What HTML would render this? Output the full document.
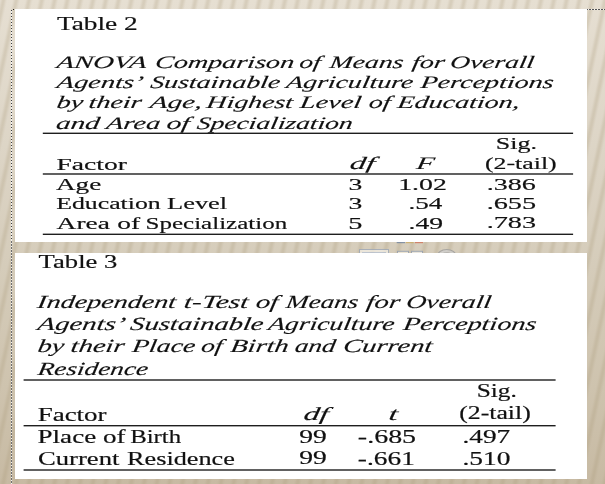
<!DOCTYPE html>
<html><head><meta charset="utf-8"><style>
html,body{margin:0;padding:0;width:605px;height:484px;overflow:hidden;background:#ddd5c6;}
svg{display:block;}
text{font-family:"Liberation Serif","Times New Roman",serif;fill:#111;stroke:#111;stroke-width:0.18px;}
text[font-style=italic]{stroke-width:0.12px;}
</style></head><body>
<svg width="605" height="484" viewBox="0 0 605 484">
<defs>
<linearGradient id="bg" x1="0" y1="0" x2="0" y2="1">
<stop offset="0" stop-color="#e6dfd2"/><stop offset="0.3" stop-color="#ddd5c6"/><stop offset="0.55" stop-color="#d5ccba"/><stop offset="0.8" stop-color="#cec3ae"/><stop offset="1" stop-color="#c7baa3"/>
</linearGradient>
<linearGradient id="sg" x1="0" y1="0" x2="1" y2="0">
<stop offset="0" stop-color="#a89878" stop-opacity="0"/>
<stop offset="0.35" stop-color="#a89878" stop-opacity="0.22"/>
<stop offset="0.5" stop-color="#a89878" stop-opacity="0.26"/>
<stop offset="0.65" stop-color="#a89878" stop-opacity="0.22"/>
<stop offset="1" stop-color="#a89878" stop-opacity="0"/>
</linearGradient>
<pattern id="st" x="0" y="0" width="12.8" height="484" patternUnits="userSpaceOnUse" patternTransform="skewX(-12)">
<rect x="0" y="0" width="7" height="484" fill="url(#sg)"/>
</pattern>
<pattern id="dv" x="0" y="1" width="1" height="3" patternUnits="userSpaceOnUse">
<rect x="0" y="0" width="1" height="1" fill="#3c3c3c"/><rect x="0" y="1" width="1" height="2" fill="#f2f2f2"/>
</pattern>
<pattern id="dv2" x="0" y="0" width="1" height="3" patternUnits="userSpaceOnUse">
<rect x="0" y="0" width="1" height="1" fill="#f4f4f4"/><rect x="0" y="1" width="1" height="2" fill="#6f6f6f"/>
</pattern>
<pattern id="dh" x="1" y="0" width="3" height="1" patternUnits="userSpaceOnUse">
<rect x="0" y="0" width="2" height="1" fill="#555"/><rect x="2" y="0" width="1" height="1" fill="#f4f4f4"/>
</pattern>
</defs>
<rect width="605" height="484" fill="url(#bg)"/>
<rect width="605" height="484" fill="url(#st)"/>
<rect x="11" y="10" width="1" height="230" fill="url(#dv)"/><rect x="11" y="240" width="1" height="244" fill="url(#dv2)"/>
<rect x="587" y="9" width="18" height="1" fill="url(#dh)"/><rect x="13" y="9" width="1" height="1" fill="#222"/>
<rect x="15" y="9" width="572" height="233" fill="#fff"/>
<g opacity="0.75">
<rect x="396.7" y="242" width="8.4" height="1.2" fill="#6b7f9c"/>
<rect x="405.8" y="242" width="7.8" height="1.2" fill="#c9a85e"/>
<rect x="415" y="242" width="8" height="1.2" fill="#d06b50"/>
<rect x="359.5" y="249.5" width="29" height="6" fill="#f3efe6" stroke="#9aa6b8" stroke-width="1"/>
<rect x="362" y="252" width="24" height="1.2" fill="#b7c3d6"/>
<rect x="397.5" y="251.3" width="11" height="4" fill="#f6eedb" stroke="#8e9bb0" stroke-width="1"/>
<rect x="411.5" y="251.3" width="11" height="4" fill="#f2efe8" stroke="#8e9bb0" stroke-width="1"/>
<ellipse cx="446.7" cy="256" rx="9.5" ry="6.5" fill="#cfcfcf" stroke="#9a9a9a" stroke-width="1.2"/>
<ellipse cx="446.7" cy="256" rx="6" ry="4" fill="#b0b0b0"/>
</g>
<rect x="15" y="253" width="572" height="226" fill="#fff"/>
<rect x="42.8" y="132.60" width="530.3" height="1.4" fill="#1e1e1e"/><rect x="42.8" y="173.30" width="530.3" height="1.4" fill="#1e1e1e"/><rect x="42.8" y="233.60" width="530.3" height="1.4" fill="#1e1e1e"/><rect x="23.6" y="379.30" width="532.0" height="1.4" fill="#1e1e1e"/><rect x="23.6" y="425.00" width="532.0" height="1.4" fill="#1e1e1e"/><rect x="23.6" y="469.30" width="532.0" height="1.4" fill="#1e1e1e"/>
<text x="56.07" y="67.90" font-size="17.5" font-style="italic" textLength="89.99" lengthAdjust="spacingAndGlyphs" transform="matrix(1 0 -0.1584 1 10.754 0)">ANOVA</text><text x="154.45" y="67.90" font-size="17.5" font-style="italic" textLength="139.05" lengthAdjust="spacingAndGlyphs" transform="matrix(1 0 -0.1584 1 10.754 0)">Comparison</text><text x="298.88" y="67.90" font-size="17.5" font-style="italic" textLength="21.28" lengthAdjust="spacingAndGlyphs" transform="matrix(1 0 -0.1584 1 10.754 0)">of</text><text x="328.95" y="67.90" font-size="17.5" font-style="italic" textLength="73.84" lengthAdjust="spacingAndGlyphs" transform="matrix(1 0 -0.1584 1 10.754 0)">Means</text><text x="411.55" y="67.90" font-size="17.5" font-style="italic" textLength="32.57" lengthAdjust="spacingAndGlyphs" transform="matrix(1 0 -0.1584 1 10.754 0)">for</text><text x="449.63" y="67.90" font-size="17.5" font-style="italic" textLength="83.78" lengthAdjust="spacingAndGlyphs" transform="matrix(1 0 -0.1584 1 10.754 0)">Overall</text><text x="56.06" y="88.00" font-size="17.5" font-style="italic" textLength="86.78" lengthAdjust="spacingAndGlyphs" transform="matrix(1 0 -0.1584 1 13.938 0)">Agents’</text><text x="149.65" y="88.00" font-size="17.5" font-style="italic" textLength="130.05" lengthAdjust="spacingAndGlyphs" transform="matrix(1 0 -0.1584 1 13.938 0)">Sustainable</text><text x="285.53" y="88.00" font-size="17.5" font-style="italic" textLength="127.15" lengthAdjust="spacingAndGlyphs" transform="matrix(1 0 -0.1584 1 13.938 0)">Agriculture</text><text x="419.94" y="88.00" font-size="17.5" font-style="italic" textLength="133.09" lengthAdjust="spacingAndGlyphs" transform="matrix(1 0 -0.1584 1 13.938 0)">Perceptions</text><text x="56.04" y="108.30" font-size="17.5" font-style="italic" textLength="26.63" lengthAdjust="spacingAndGlyphs" transform="matrix(1 0 -0.1584 1 17.153 0)">by</text><text x="87.93" y="108.30" font-size="17.5" font-style="italic" textLength="53.16" lengthAdjust="spacingAndGlyphs" transform="matrix(1 0 -0.1584 1 17.153 0)">their</text><text x="149.39" y="108.30" font-size="17.5" font-style="italic" textLength="52.21" lengthAdjust="spacingAndGlyphs" transform="matrix(1 0 -0.1584 1 17.153 0)">Age,</text><text x="205.88" y="108.30" font-size="17.5" font-style="italic" textLength="86.39" lengthAdjust="spacingAndGlyphs" transform="matrix(1 0 -0.1584 1 17.153 0)">Highest</text><text x="299.25" y="108.30" font-size="17.5" font-style="italic" textLength="61.40" lengthAdjust="spacingAndGlyphs" transform="matrix(1 0 -0.1584 1 17.153 0)">Level</text><text x="368.27" y="108.30" font-size="17.5" font-style="italic" textLength="21.64" lengthAdjust="spacingAndGlyphs" transform="matrix(1 0 -0.1584 1 17.153 0)">of</text><text x="396.85" y="108.30" font-size="17.5" font-style="italic" textLength="122.21" lengthAdjust="spacingAndGlyphs" transform="matrix(1 0 -0.1584 1 17.153 0)">Education,</text><text x="55.53" y="128.70" font-size="17.5" font-style="italic" textLength="43.50" lengthAdjust="spacingAndGlyphs" transform="matrix(1 0 -0.1584 1 20.384 0)">and</text><text x="105.56" y="128.70" font-size="17.5" font-style="italic" textLength="53.98" lengthAdjust="spacingAndGlyphs" transform="matrix(1 0 -0.1584 1 20.384 0)">Area</text><text x="165.91" y="128.70" font-size="17.5" font-style="italic" textLength="23.09" lengthAdjust="spacingAndGlyphs" transform="matrix(1 0 -0.1584 1 20.384 0)">of</text><text x="196.16" y="128.70" font-size="17.5" font-style="italic" textLength="155.95" lengthAdjust="spacingAndGlyphs" transform="matrix(1 0 -0.1584 1 20.384 0)">Specialization</text><text x="36.54" y="308.30" font-size="18.5" font-style="italic" textLength="138.70" lengthAdjust="spacingAndGlyphs" transform="matrix(1 0 -0.1584 1 48.830 0)">Independent</text><text x="183.17" y="308.30" font-size="18.5" font-style="italic" textLength="64.57" lengthAdjust="spacingAndGlyphs" transform="matrix(1 0 -0.1584 1 48.830 0)">t-Test</text><text x="255.17" y="308.30" font-size="18.5" font-style="italic" textLength="22.40" lengthAdjust="spacingAndGlyphs" transform="matrix(1 0 -0.1584 1 48.830 0)">of</text><text x="285.34" y="308.30" font-size="18.5" font-style="italic" textLength="72.23" lengthAdjust="spacingAndGlyphs" transform="matrix(1 0 -0.1584 1 48.830 0)">Means</text><text x="365.80" y="308.30" font-size="18.5" font-style="italic" textLength="33.61" lengthAdjust="spacingAndGlyphs" transform="matrix(1 0 -0.1584 1 48.830 0)">for</text><text x="405.41" y="308.30" font-size="18.5" font-style="italic" textLength="85.11" lengthAdjust="spacingAndGlyphs" transform="matrix(1 0 -0.1584 1 48.830 0)">Overall</text><text x="36.88" y="330.10" font-size="18.5" font-style="italic" textLength="87.87" lengthAdjust="spacingAndGlyphs" transform="matrix(1 0 -0.1584 1 52.283 0)">Agents’</text><text x="129.64" y="330.10" font-size="18.5" font-style="italic" textLength="133.17" lengthAdjust="spacingAndGlyphs" transform="matrix(1 0 -0.1584 1 52.283 0)">Sustainable</text><text x="267.52" y="330.10" font-size="18.5" font-style="italic" textLength="126.16" lengthAdjust="spacingAndGlyphs" transform="matrix(1 0 -0.1584 1 52.283 0)">Agriculture</text><text x="402.44" y="330.10" font-size="18.5" font-style="italic" textLength="133.29" lengthAdjust="spacingAndGlyphs" transform="matrix(1 0 -0.1584 1 52.283 0)">Perceptions</text><text x="37.04" y="351.90" font-size="18.5" font-style="italic" textLength="26.63" lengthAdjust="spacingAndGlyphs" transform="matrix(1 0 -0.1584 1 55.735 0)">by</text><text x="70.02" y="351.90" font-size="18.5" font-style="italic" textLength="53.88" lengthAdjust="spacingAndGlyphs" transform="matrix(1 0 -0.1584 1 55.735 0)">their</text><text x="131.44" y="351.90" font-size="18.5" font-style="italic" textLength="63.16" lengthAdjust="spacingAndGlyphs" transform="matrix(1 0 -0.1584 1 55.735 0)">Place</text><text x="200.48" y="351.90" font-size="18.5" font-style="italic" textLength="21.37" lengthAdjust="spacingAndGlyphs" transform="matrix(1 0 -0.1584 1 55.735 0)">of</text><text x="229.72" y="351.90" font-size="18.5" font-style="italic" textLength="58.31" lengthAdjust="spacingAndGlyphs" transform="matrix(1 0 -0.1584 1 55.735 0)">Birth</text><text x="294.19" y="351.90" font-size="18.5" font-style="italic" textLength="40.75" lengthAdjust="spacingAndGlyphs" transform="matrix(1 0 -0.1584 1 55.735 0)">and</text><text x="342.43" y="351.90" font-size="18.5" font-style="italic" textLength="89.30" lengthAdjust="spacingAndGlyphs" transform="matrix(1 0 -0.1584 1 55.735 0)">Current</text><text x="36.94" y="374.90" font-size="18.5" font-style="italic" textLength="110.43" lengthAdjust="spacingAndGlyphs" transform="matrix(1 0 -0.1584 1 59.378 0)">Residence</text><text x="56.19" y="208.80" font-size="17.5" textLength="104.48" lengthAdjust="spacingAndGlyphs">Education</text><text x="167.07" y="208.80" font-size="17.5" textLength="60.09" lengthAdjust="spacingAndGlyphs">Level</text><text x="56.63" y="229.10" font-size="17.5" textLength="53.23" lengthAdjust="spacingAndGlyphs">Area</text><text x="117.23" y="229.10" font-size="17.5" textLength="22.82" lengthAdjust="spacingAndGlyphs">of</text><text x="145.61" y="229.10" font-size="17.5" textLength="141.56" lengthAdjust="spacingAndGlyphs">Specialization</text><text x="37.56" y="443.10" font-size="18.5" textLength="58.64" lengthAdjust="spacingAndGlyphs">Place</text><text x="102.97" y="443.10" font-size="18.5" textLength="22.56" lengthAdjust="spacingAndGlyphs">of</text><text x="130.22" y="443.10" font-size="18.5" textLength="50.91" lengthAdjust="spacingAndGlyphs">Birth</text><text x="38.03" y="465.10" font-size="18.5" textLength="81.39" lengthAdjust="spacingAndGlyphs">Current</text><text x="127.08" y="465.10" font-size="18.5" textLength="107.83" lengthAdjust="spacingAndGlyphs">Residence</text><text x="56.92" y="29.80" font-size="18.3" textLength="80.86" lengthAdjust="spacingAndGlyphs">Table 2</text><text x="495.85" y="148.90" font-size="17.5" textLength="41.11" lengthAdjust="spacingAndGlyphs">Sig.</text><text x="56.54" y="169.80" font-size="17.5" textLength="70.36" lengthAdjust="spacingAndGlyphs">Factor</text><text x="349.33" y="169.30" font-size="17.5" font-style="italic" textLength="25.07" lengthAdjust="spacingAndGlyphs" transform="matrix(1 0 -0.1584 1 26.814 0)">df</text><text x="415.85" y="169.20" font-size="17.5" font-style="italic" textLength="17.98" lengthAdjust="spacingAndGlyphs" transform="matrix(1 0 -0.1584 1 26.799 0)">F</text><text x="484.90" y="169.10" font-size="17.5" textLength="71.84" lengthAdjust="spacingAndGlyphs">(2-tail)</text><text x="56.03" y="189.80" font-size="17.5" textLength="45.18" lengthAdjust="spacingAndGlyphs">Age</text><text x="348.49" y="189.90" font-size="17.5" textLength="13.82" lengthAdjust="spacingAndGlyphs">3</text><text x="398.16" y="189.80" font-size="17.5" textLength="48.77" lengthAdjust="spacingAndGlyphs">1.02</text><text x="486.67" y="189.50" font-size="17.5" textLength="49.17" lengthAdjust="spacingAndGlyphs">.386</text><text x="348.49" y="208.70" font-size="17.5" textLength="13.82" lengthAdjust="spacingAndGlyphs">3</text><text x="408.54" y="208.70" font-size="17.5" textLength="33.87" lengthAdjust="spacingAndGlyphs">.54</text><text x="486.66" y="209.00" font-size="17.5" textLength="49.47" lengthAdjust="spacingAndGlyphs">.655</text><text x="348.17" y="228.70" font-size="17.5" textLength="14.16" lengthAdjust="spacingAndGlyphs">5</text><text x="408.50" y="228.50" font-size="17.5" textLength="34.61" lengthAdjust="spacingAndGlyphs">.49</text><text x="486.66" y="228.30" font-size="17.5" textLength="49.47" lengthAdjust="spacingAndGlyphs">.783</text><text x="38.63" y="268.00" font-size="18.5" textLength="78.71" lengthAdjust="spacingAndGlyphs">Table 3</text><text x="476.69" y="396.90" font-size="18.5" textLength="40.13" lengthAdjust="spacingAndGlyphs">Sig.</text><text x="37.66" y="420.60" font-size="18.5" textLength="68.94" lengthAdjust="spacingAndGlyphs">Factor</text><text x="303.04" y="420.20" font-size="18.5" font-style="italic" textLength="24.98" lengthAdjust="spacingAndGlyphs" transform="matrix(1 0 -0.1584 1 66.553 0)">df</text><text x="387.92" y="420.00" font-size="18.5" font-style="italic" textLength="9.13" lengthAdjust="spacingAndGlyphs" transform="matrix(1 0 -0.1584 1 66.521 0)">t</text><text x="459.21" y="418.80" font-size="18.5" textLength="71.53" lengthAdjust="spacingAndGlyphs">(2-tail)</text><text x="299.31" y="442.80" font-size="18.5" textLength="27.49" lengthAdjust="spacingAndGlyphs">99</text><text x="357.85" y="443.00" font-size="18.5" textLength="58.28" lengthAdjust="spacingAndGlyphs">-.685</text><text x="462.53" y="442.80" font-size="18.5" textLength="47.72" lengthAdjust="spacingAndGlyphs">.497</text><text x="299.31" y="464.20" font-size="18.5" textLength="27.49" lengthAdjust="spacingAndGlyphs">99</text><text x="357.87" y="464.50" font-size="18.5" textLength="56.98" lengthAdjust="spacingAndGlyphs">-.661</text><text x="462.52" y="464.50" font-size="18.5" textLength="48.01" lengthAdjust="spacingAndGlyphs">.510</text>
</svg>
</body></html>
